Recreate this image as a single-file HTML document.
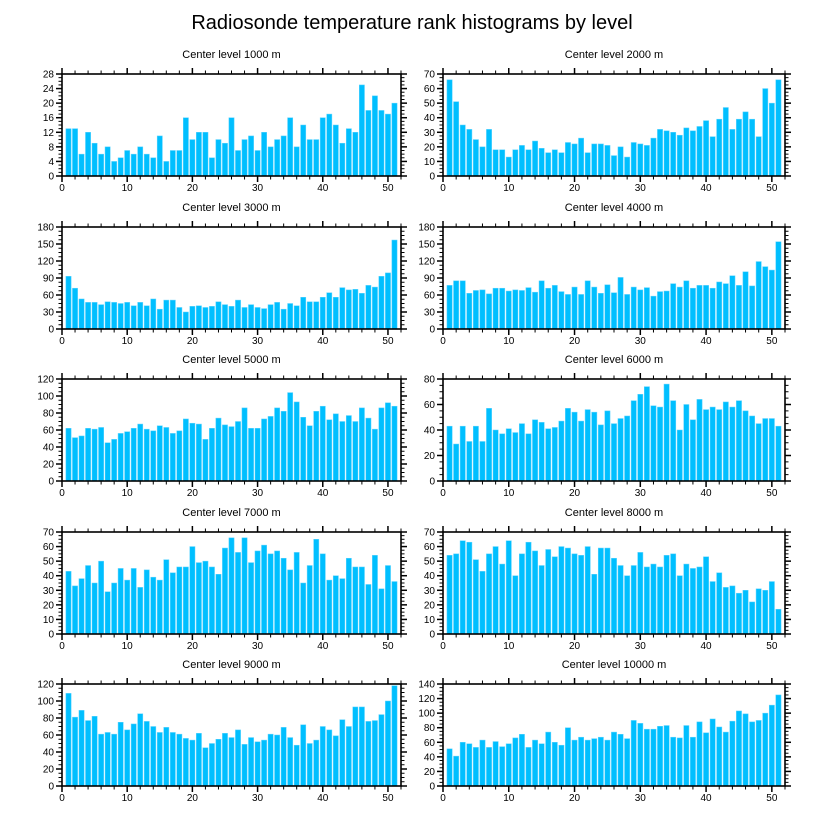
<!DOCTYPE html>
<html><head><meta charset="utf-8"><style>
body{margin:0;background:#fff;}
svg{display:block;font-family:"Liberation Sans",sans-serif;}
</style></head><body>
<svg id="chart" width="824" height="824" viewBox="0 0 824 824">
<rect width="824" height="824" fill="#fff"/>
<text x="412" y="29" text-anchor="middle" font-size="20">Radiosonde temperature rank histograms by level</text>
</svg>
<script>
const levels = ["1000","2000","3000","4000","5000","6000","7000","8000","9000","10000"];
const yMax = [28,70,180,180,120,80,70,70,120,140];
const yStep = [4,10,30,30,20,20,10,10,20,20];
const xTicks = [0,10,20,30,40,50];
const v1000 = [13,13,6,12,9,6,8,4,5,7,6,8,6,5,11,4,7,7,16,10,12,12,5,10,9,16,7,10,11,7,12,8,10,11,16,8,14,10,10,16,17,14,9,13,12,25,18,22,18,17,20];
const v2000 = [66,51,35,32,25,20,32,18,18,13,18,21,18,24,19,16,18,16,23,22,26,16,22,22,21,14,20,13,23,22,21,26,32,31,30,28,33,31,34,38,27,39,47,32,39,44,39,27,60,50,66];
const v3000 = [93,72,53,47,47,43,48,47,45,47,41,47,41,53,35,51,51,38,30,40,41,38,40,48,43,40,51,38,43,38,36,43,47,35,45,41,56,48,48,56,64,56,73,69,70,63,77,74,93,99,157];
const v4000 = [77,85,85,63,68,69,62,72,72,67,69,68,73,65,85,72,77,66,61,74,61,85,74,63,78,64,91,61,74,69,73,58,66,67,80,74,85,72,77,77,72,83,80,94,77,101,76,119,110,104,154];
const v5000 = [62,51,53,62,61,63,45,49,56,58,62,67,61,59,65,63,56,59,73,68,67,49,62,74,66,64,70,86,62,62,73,76,86,82,104,93,75,65,82,88,72,79,70,77,70,86,74,61,86,92,88];
const v6000 = [43,29,43,31,43,31,57,40,37,41,38,45,37,48,46,41,42,47,57,54,47,56,54,44,55,45,49,51,63,68,74,59,58,76,63,40,60,48,64,56,58,56,62,58,63,55,51,45,49,49,43];
const v7000 = [43,33,38,47,35,50,29,35,45,37,45,32,44,39,37,51,42,46,46,60,49,50,46,41,59,66,56,66,49,57,61,55,57,52,44,56,35,47,65,55,37,40,38,52,46,46,34,54,31,47,36];
const v8000 = [54,55,64,63,51,43,55,60,48,64,40,55,63,57,47,58,53,60,59,55,54,60,41,59,59,52,47,40,47,56,46,48,46,54,55,40,48,45,46,53,36,42,32,33,28,30,22,31,30,36,17];
const v9000 = [109,81,89,77,82,61,63,61,75,66,73,85,76,70,63,69,63,61,56,54,62,45,50,55,62,57,66,49,57,52,54,61,60,69,57,48,72,50,54,70,66,59,78,70,93,93,76,77,84,100,118];
const v10000 = [51,41,60,58,53,63,53,61,54,58,66,71,53,63,58,74,60,56,80,63,67,63,65,67,63,74,71,65,90,86,78,78,82,83,67,66,83,67,88,73,92,81,74,89,103,99,88,90,100,111,125];
const series = [v1000,v2000,v3000,v4000,v5000,v6000,v7000,v8000,v9000,v10000];

const NS = "http://www.w3.org/2000/svg";
const svg = document.getElementById("chart");
function mk(tag, attrs, parent){const e=document.createElementNS(NS,tag);for(const k in attrs)e.setAttribute(k,attrs[k]);(parent||svg).appendChild(e);return e;}

const colX0=[62,443], colW=[339,342];
const rowY0=[74,227,379,532,684], plotH=102, xMaxV=52;

series.forEach((vals,i)=>{
  const col=i%2,row=Math.floor(i/2);
  const x0=colX0[col],w=colW[col],y0=rowY0[row],yb=y0+plotH;
  const xs=v=>x0+v/xMaxV*w;
  const ys=v=>yb-v/yMax[i]*plotH;
  const g=mk("g",{});
  
  
  const t=mk("text",{x:x0+w/2,y:y0-16,"text-anchor":"middle","font-size":"11"},g);
  t.textContent="Center level "+levels[i]+" m";
  
  
  vals.forEach((v,k)=>{
    const c=k+1;
    const r=mk("rect",{x:xs(c-0.4),y:ys(v),width:xs(0.8)-x0,height:yb-ys(v),fill:"#00bfff",stroke:"#5fd4ff","stroke-width":"0.5"},g);
    
    
  });
  const f=mk("rect",{x:x0,y:y0,width:w,height:plotH,fill:"none",stroke:"#000","stroke-width":"1.6"},g);
  
  
  // x ticks
  for(let v=0;v<=xMaxV;v+=2){
    const maj=v%10===0,L=maj?6:3.5,X=xs(v);
    mk("line",{x1:X,y1:yb,x2:X,y2:yb+L,stroke:"#000","stroke-width":maj?1.5:1},g);
    mk("line",{x1:X,y1:y0,x2:X,y2:y0-L,stroke:"#000","stroke-width":maj?1.5:1},g);
  }
  xTicks.forEach(v=>{
    const tl=mk("text",{x:xs(v),y:yb+15,"text-anchor":"middle","font-size":"10"},g);
    tl.textContent=v;
    
    
  });
  // y ticks
  const minor=yStep[i]/4;
  for(let v=0;v<=yMax[i]+1e-6;v+=minor){
    const maj=Math.abs(v/yStep[i]-Math.round(v/yStep[i]))<1e-6,L=maj?6:3.5,Y=ys(v);
    mk("line",{x1:x0,y1:Y,x2:x0-L,y2:Y,stroke:"#000","stroke-width":maj?1.5:1},g);
    mk("line",{x1:x0+w,y1:Y,x2:x0+w+L,y2:Y,stroke:"#000","stroke-width":maj?1.5:1},g);
    if(maj){
      const yl=mk("text",{x:x0-8,y:Y+3.5,"text-anchor":"end","font-size":"10"},g);
      yl.textContent=Math.round(v);
      
      
    }
  }
});
</script>
</body></html>
